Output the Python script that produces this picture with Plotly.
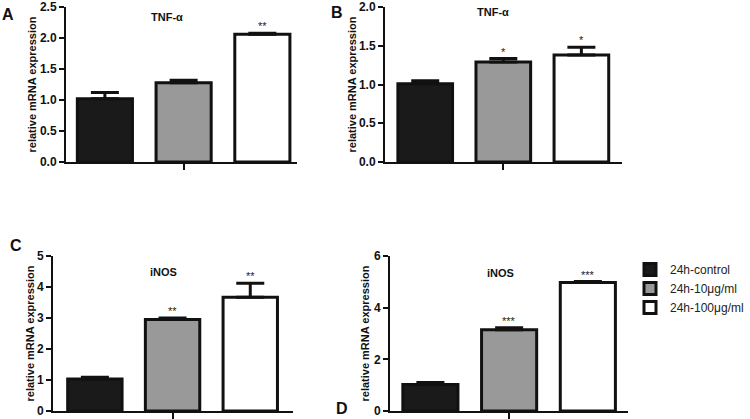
import plotly.graph_objects as go

groups = ["24h-control", "24h-10μg/ml", "24h-100μg/ml"]
colors = ["#1a1a1a", "#999999", "#ffffff"]

# panel values (mean) and upper error (SEM)
tnf_a_mean = [1.02, 1.28, 2.06]
tnf_a_err = [0.10, 0.04, 0.015]
tnf_a_sig = ["", "", "**"]

tnf_b_mean = [1.01, 1.29, 1.38]
tnf_b_err = [0.04, 0.045, 0.10]
tnf_b_sig = ["", "*", "*"]

inos_c_mean = [1.03, 2.95, 3.67]
inos_c_err = [0.06, 0.05, 0.45]
inos_c_sig = ["", "**", "**"]

inos_d_mean = [1.03, 3.15, 4.97]
inos_d_err = [0.07, 0.07, 0.04]
inos_d_sig = ["", "***", "***"]

W, H = 750, 419
FONT = "Liberation Sans, Arial"

def px_x(a, b):
    return [a / W, b / W]
def px_y(top, bottom):
    return [1 - bottom / H, 1 - top / H]

panels = [
    dict(mean=tnf_a_mean, err=tnf_a_err, sig=tnf_a_sig, title="TNF-α", letter="A",
         xd=px_x(66, 297), yd=px_y(7, 162), yr=[0, 2.5], dt=0.5, fmt=".1f",
         xr=[-0.494, 2.44], tpos=(167, 17), lpos=(8, 15), ytitle=31, legend=False),
    dict(mean=tnf_b_mean, err=tnf_b_err, sig=tnf_b_sig, title="TNF-α", letter="B",
         xd=px_x(385, 622), yd=px_y(7, 162), yr=[0, 2.0], dt=0.5, fmt=".1f",
         xr=[-0.515, 2.52], tpos=(493, 12), lpos=(337, 12), ytitle=351, legend=False),
    dict(mean=inos_c_mean, err=inos_c_err, sig=inos_c_sig, title="iNOS", letter="C",
         xd=px_x(53, 293), yd=px_y(256, 411), yr=[0, 5], dt=1, fmt="d",
         xr=[-0.539, 2.55], tpos=(163, 272), lpos=(16, 245), ytitle=29, legend=False),
    dict(mean=inos_d_mean, err=inos_d_err, sig=inos_d_sig, title="iNOS", letter="D",
         xd=px_x(390, 628), yd=px_y(256, 411), yr=[0, 6], dt=2, fmt="d",
         xr=[-0.513, 2.51], tpos=(500, 273), lpos=(342, 408), ytitle=364, legend=True),
]

fig = go.Figure()
annotations = []
for i, p in enumerate(panels):
    n = "" if i == 0 else str(i + 1)
    xa, ya = "x" + n, "y" + n
    for g, c, m, e in zip(groups, colors, p["mean"], p["err"]):
        fig.add_trace(go.Bar(
            x=[g], y=[m], name=g, xaxis=xa, yaxis=ya,
            marker=dict(color=c, line=dict(color="#111111", width=3)),
            width=0.7,
            error_y=dict(type="data", array=[e], arrayminus=[0], symmetric=False,
                         color="#111111", thickness=3, width=14),
            showlegend=p["legend"], hoverinfo="y",
        ))
    for g, m, e, s in zip(groups, p["mean"], p["err"], p["sig"]):
        if s:
            annotations.append(dict(x=g, y=m + e, xref=xa, yref=ya, text=s,
                                    showarrow=False, xanchor="center", yanchor="bottom",
                                    yshift=-1, font=dict(family=FONT, size=11, color="#222222")))
    fig.layout["xaxis" + n] = dict(
        domain=p["xd"], anchor=ya, type="category", categoryorder="array",
        categoryarray=groups, range=p["xr"], showline=True, linecolor="#111111",
        linewidth=2, ticks="outside", ticklen=6, tickwidth=2, tickcolor="#111111",
        tickvals=[groups[1]], ticktext=[""], showgrid=False, zeroline=False,
        automargin=False, fixedrange=True)
    fig.layout["yaxis" + n] = dict(
        domain=p["yd"], anchor=xa, range=p["yr"], dtick=p["dt"], tick0=0,
        tickformat=p["fmt"], showline=True, linecolor="#111111", linewidth=2,
        ticks="outside", ticklen=5, tickwidth=2, tickcolor="#111111",
        showgrid=False, zeroline=False, automargin=False, fixedrange=True,
        tickfont=dict(family=FONT, size=12, color="#111111", weight="bold"))
    annotations.append(dict(x=p["tpos"][0] / W, y=1 - p["tpos"][1] / H, xref="paper",
                            yref="paper", text="<b>" + p["title"] + "</b>", showarrow=False,
                            xanchor="center", yanchor="middle",
                            font=dict(family=FONT, size=11, color="#111111")))
    annotations.append(dict(x=p["lpos"][0] / W, y=1 - p["lpos"][1] / H, xref="paper",
                            yref="paper", text="<b>" + p["letter"] + "</b>", showarrow=False,
                            xanchor="center", yanchor="middle",
                            font=dict(family=FONT, size=16, color="#111111")))
    yc = (p["yd"][0] + p["yd"][1]) / 2
    annotations.append(dict(x=p["ytitle"] / W, y=yc, xref="paper", yref="paper",
                            text="<b>relative mRNA expression</b>", textangle=-90,
                            showarrow=False, xanchor="center", yanchor="middle",
                            font=dict(family=FONT, size=11, color="#111111")))

fig.update_layout(
    width=W, height=H, margin=dict(l=0, r=0, t=0, b=0, autoexpand=False),
    paper_bgcolor="white", plot_bgcolor="white", barmode="overlay",
    annotations=annotations,
    legend=dict(x=630 / W, y=1 - 255 / H, xanchor="left", yanchor="top",
                font=dict(family=FONT, size=12, color="#222222"),
                tracegroupgap=2, bgcolor="rgba(0,0,0,0)"),
    font=dict(family=FONT),
)

fig.write_html("out.html", config={"displayModeBar": False},
               post_script="document.body.style.margin='0';")
